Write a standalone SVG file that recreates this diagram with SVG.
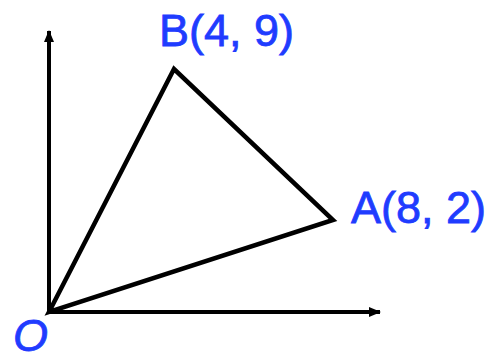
<svg xmlns="http://www.w3.org/2000/svg" width="495" height="361" viewBox="0 0 495 361">
<style>
.ax{stroke:#000;stroke-width:4;fill:none}
.tri{stroke:#000;stroke-width:4.5;fill:none;stroke-linejoin:miter}
.lbl{font-family:"Liberation Sans",Arial,sans-serif;font-size:45px;fill:#1f3cff;stroke:#1f3cff;stroke-width:0.8}
</style>
<defs>
<marker id="arr" viewBox="0 0 12 10" refX="11" refY="5" markerWidth="12" markerHeight="10" markerUnits="userSpaceOnUse" orient="auto">
<path d="M0,0 L12,5 L0,10 Z" fill="#000"/>
</marker>
</defs>
<g id="connectors">
<line class="ax" x1="49" y1="312" x2="49" y2="31" marker-end="url(#arr)"/>
<line class="ax" x1="49" y1="312" x2="380" y2="312" marker-end="url(#arr)"/>
<polygon class="tri" points="49,312 174,69 333,220"/>
</g>
<g id="B"><text class="lbl" x="159" y="46">B(4, 9)</text></g>
<g id="A"><text class="lbl" x="351" y="223" font-size="44">A(8, 2)</text></g>
<g id="O"><text class="lbl" x="13" y="351" font-style="italic" font-size="40">O</text></g>
</svg>
